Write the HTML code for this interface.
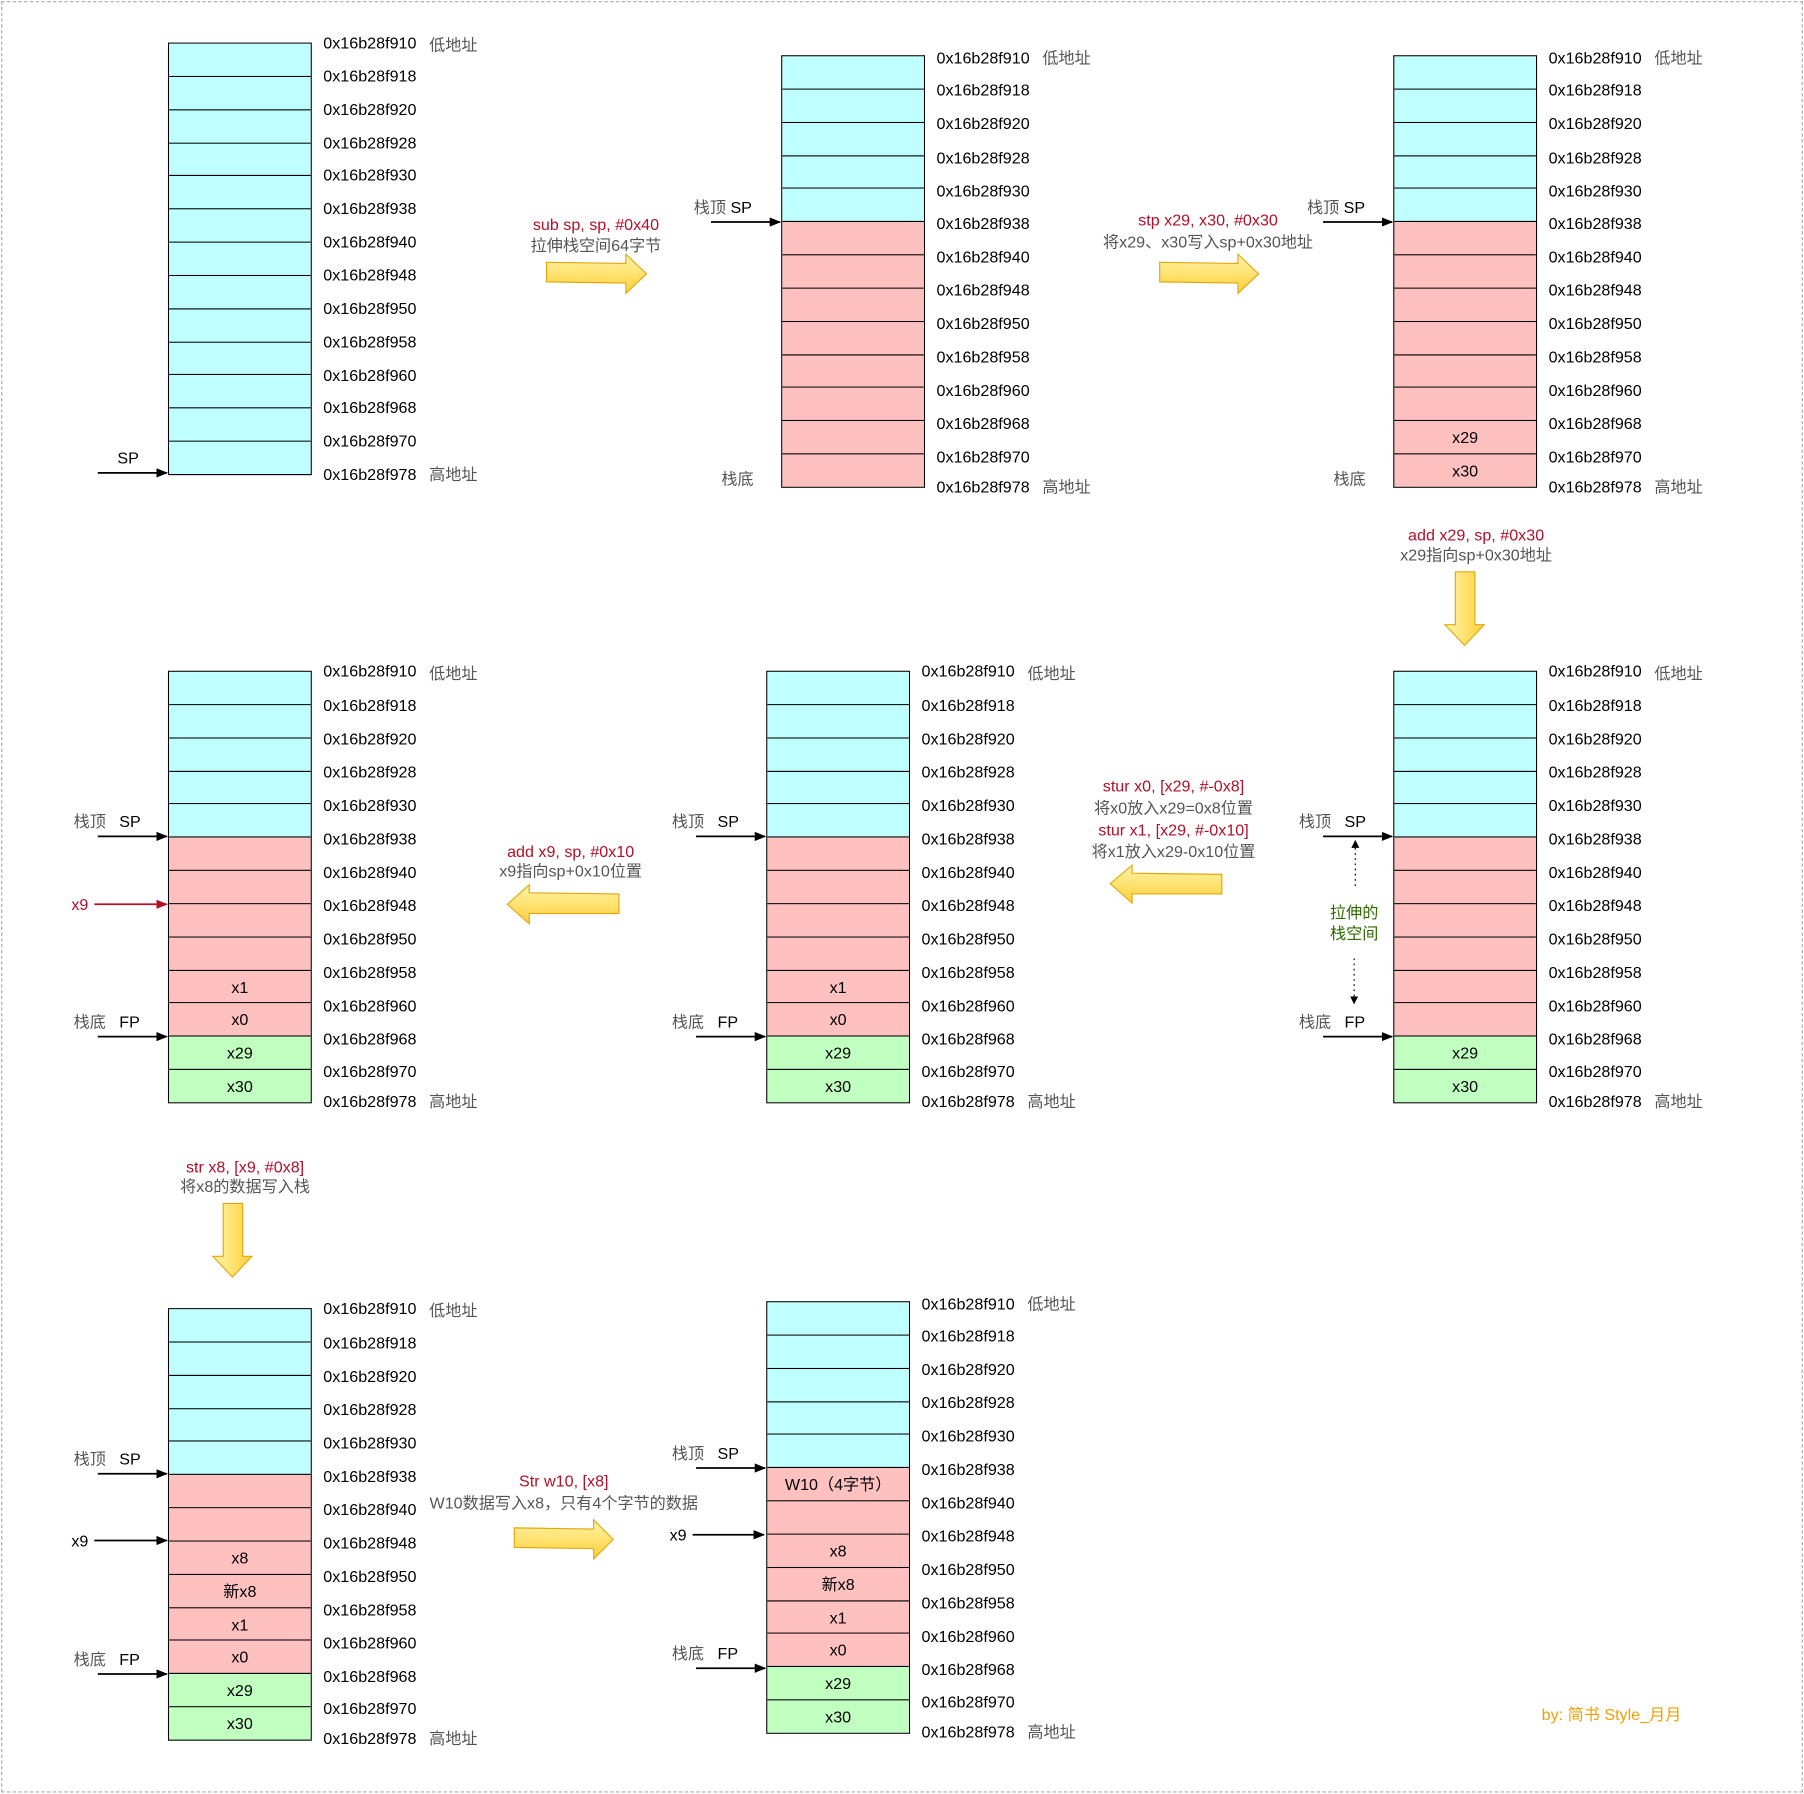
<!DOCTYPE html>
<html><head><meta charset="utf-8">
<style>
html,body{margin:0;padding:0;background:#fff;}
body{width:1804px;height:1794px;overflow:hidden;position:relative;}
#c{position:absolute;left:0;top:0;width:1568px;height:1559px;transform:scale(1.1505);transform-origin:0 0;font-family:"Liberation Sans","Noto Sans CJK SC",sans-serif;}
.frame{position:absolute;left:1px;top:1px;width:1564px;height:1555px;border:1px dashed #aaa;}
.w{position:absolute;width:360px;height:380px;}
.box{position:absolute;left:0;top:0;width:125px;border:1px solid #000;box-sizing:border-box;height:auto !important;}
.r{height:28.85px;box-sizing:border-box;border-bottom:1px solid #000;text-align:center;font-size:14px;line-height:28px;color:#000;}
.r:last-child{border-bottom:none;height:28.2px;}
.c{background:#c0ffff}.p{background:#ffc0c0}.g{background:#c0ffc0}
.a{position:absolute;left:135px;font-size:14px;line-height:18px;height:18px;white-space:nowrap;color:#000;}
.n{position:absolute;left:227px;font-size:14px;line-height:18px;color:#555;white-space:nowrap;}
.t{position:absolute;font-size:14px;line-height:18px;white-space:nowrap;color:#000;}
.gr{color:#555}.red{color:#b0102a}
.ct{position:absolute;font-size:14px;line-height:18px;white-space:nowrap;transform:translateX(-50%);text-align:center;}
svg{position:absolute;left:0;top:0;}
</style></head><body><div id="c">
<div class="frame"></div>

<!-- Stack 1 -->
<div class="w" style="left:146px;top:37px">
<div class="box"><div class="r c"></div><div class="r c"></div><div class="r c"></div><div class="r c"></div><div class="r c"></div><div class="r c"></div><div class="r c"></div><div class="r c"></div><div class="r c"></div><div class="r c"></div><div class="r c"></div><div class="r c"></div><div class="r c"></div></div>
<div class="a" style="top:-9px">0x16b28f910</div><div class="n" style="top:-7px">低地址</div>
<div class="a" style="top:19.85px">0x16b28f918</div><div class="a" style="top:48.7px">0x16b28f920</div><div class="a" style="top:77.55px">0x16b28f928</div><div class="a" style="top:106.4px">0x16b28f930</div><div class="a" style="top:135.25px">0x16b28f938</div><div class="a" style="top:164.1px">0x16b28f940</div><div class="a" style="top:192.95px">0x16b28f948</div><div class="a" style="top:221.8px">0x16b28f950</div><div class="a" style="top:250.65px">0x16b28f958</div><div class="a" style="top:279.5px">0x16b28f960</div><div class="a" style="top:308.35px">0x16b28f968</div><div class="a" style="top:337.2px">0x16b28f970</div><div class="a" style="top:366.05px">0x16b28f978</div><div class="n" style="top:366px">高地址</div>
</div>

<!-- Stack 2 -->
<div class="w" style="left:679px;top:48px">
<div class="box"><div class="r c"></div><div class="r c"></div><div class="r c"></div><div class="r c"></div><div class="r c"></div><div class="r p"></div><div class="r p"></div><div class="r p"></div><div class="r p"></div><div class="r p"></div><div class="r p"></div><div class="r p"></div><div class="r p"></div></div>
<div class="a" style="top:-7px">0x16b28f910</div><div class="n" style="top:-7px">低地址</div>
<div class="a" style="top:21px">0x16b28f918</div><div class="a" style="top:50px">0x16b28f920</div><div class="a" style="top:79.5px">0x16b28f928</div><div class="a" style="top:108.5px">0x16b28f930</div><div class="a" style="top:137.25px">0x16b28f938</div><div class="a" style="top:166.1px">0x16b28f940</div><div class="a" style="top:195px">0x16b28f948</div><div class="a" style="top:224px">0x16b28f950</div><div class="a" style="top:253px">0x16b28f958</div><div class="a" style="top:282px">0x16b28f960</div><div class="a" style="top:311px">0x16b28f968</div><div class="a" style="top:340px">0x16b28f970</div><div class="a" style="top:366px">0x16b28f978</div><div class="n" style="top:366px">高地址</div>
</div>

<!-- Stack 3 -->
<div class="w" style="left:1211px;top:48px">
<div class="box"><div class="r c"></div><div class="r c"></div><div class="r c"></div><div class="r c"></div><div class="r c"></div><div class="r p"></div><div class="r p"></div><div class="r p"></div><div class="r p"></div><div class="r p"></div><div class="r p"></div><div class="r p">x29</div><div class="r p">x30</div></div>
<div class="a" style="top:-7px">0x16b28f910</div><div class="n" style="top:-7px">低地址</div>
<div class="a" style="top:21px">0x16b28f918</div><div class="a" style="top:50px">0x16b28f920</div><div class="a" style="top:79.5px">0x16b28f928</div><div class="a" style="top:108.5px">0x16b28f930</div><div class="a" style="top:137.25px">0x16b28f938</div><div class="a" style="top:166.1px">0x16b28f940</div><div class="a" style="top:195px">0x16b28f948</div><div class="a" style="top:224px">0x16b28f950</div><div class="a" style="top:253px">0x16b28f958</div><div class="a" style="top:282px">0x16b28f960</div><div class="a" style="top:311px">0x16b28f968</div><div class="a" style="top:340px">0x16b28f970</div><div class="a" style="top:366px">0x16b28f978</div><div class="n" style="top:366px">高地址</div>
</div>

<!-- Stack 4 -->
<div class="w" style="left:146px;top:583px">
<div class="box"><div class="r c"></div><div class="r c"></div><div class="r c"></div><div class="r c"></div><div class="r c"></div><div class="r p"></div><div class="r p"></div><div class="r p"></div><div class="r p"></div><div class="r p">x1</div><div class="r p">x0</div><div class="r g">x29</div><div class="r g">x30</div></div>
<div class="a" style="top:-9px">0x16b28f910</div><div class="n" style="top:-7px">低地址</div>
<div class="a" style="top:21px">0x16b28f918</div><div class="a" style="top:50px">0x16b28f920</div><div class="a" style="top:79px">0x16b28f928</div><div class="a" style="top:108px">0x16b28f930</div><div class="a" style="top:137px">0x16b28f938</div><div class="a" style="top:166px">0x16b28f940</div><div class="a" style="top:195px">0x16b28f948</div><div class="a" style="top:224px">0x16b28f950</div><div class="a" style="top:253px">0x16b28f958</div><div class="a" style="top:282px">0x16b28f960</div><div class="a" style="top:311px">0x16b28f968</div><div class="a" style="top:339px">0x16b28f970</div><div class="a" style="top:365px">0x16b28f978</div><div class="n" style="top:365px">高地址</div>
</div>

<!-- Stack 5 -->
<div class="w" style="left:666px;top:583px">
<div class="box"><div class="r c"></div><div class="r c"></div><div class="r c"></div><div class="r c"></div><div class="r c"></div><div class="r p"></div><div class="r p"></div><div class="r p"></div><div class="r p"></div><div class="r p">x1</div><div class="r p">x0</div><div class="r g">x29</div><div class="r g">x30</div></div>
<div class="a" style="top:-9px">0x16b28f910</div><div class="n" style="top:-7px">低地址</div>
<div class="a" style="top:21px">0x16b28f918</div><div class="a" style="top:50px">0x16b28f920</div><div class="a" style="top:79px">0x16b28f928</div><div class="a" style="top:108px">0x16b28f930</div><div class="a" style="top:137px">0x16b28f938</div><div class="a" style="top:166px">0x16b28f940</div><div class="a" style="top:195px">0x16b28f948</div><div class="a" style="top:224px">0x16b28f950</div><div class="a" style="top:253px">0x16b28f958</div><div class="a" style="top:282px">0x16b28f960</div><div class="a" style="top:311px">0x16b28f968</div><div class="a" style="top:339px">0x16b28f970</div><div class="a" style="top:365px">0x16b28f978</div><div class="n" style="top:365px">高地址</div>
</div>

<!-- Stack 6 -->
<div class="w" style="left:1211px;top:583px">
<div class="box"><div class="r c"></div><div class="r c"></div><div class="r c"></div><div class="r c"></div><div class="r c"></div><div class="r p"></div><div class="r p"></div><div class="r p"></div><div class="r p"></div><div class="r p"></div><div class="r p"></div><div class="r g">x29</div><div class="r g">x30</div></div>
<div class="a" style="top:-9px">0x16b28f910</div><div class="n" style="top:-7px">低地址</div>
<div class="a" style="top:21px">0x16b28f918</div><div class="a" style="top:50px">0x16b28f920</div><div class="a" style="top:79px">0x16b28f928</div><div class="a" style="top:108px">0x16b28f930</div><div class="a" style="top:137px">0x16b28f938</div><div class="a" style="top:166px">0x16b28f940</div><div class="a" style="top:195px">0x16b28f948</div><div class="a" style="top:224px">0x16b28f950</div><div class="a" style="top:253px">0x16b28f958</div><div class="a" style="top:282px">0x16b28f960</div><div class="a" style="top:311px">0x16b28f968</div><div class="a" style="top:339px">0x16b28f970</div><div class="a" style="top:365px">0x16b28f978</div><div class="n" style="top:365px">高地址</div>
</div>

<!-- Stack 7 -->
<div class="w" style="left:146px;top:1137px">
<div class="box"><div class="r c"></div><div class="r c"></div><div class="r c"></div><div class="r c"></div><div class="r c"></div><div class="r p"></div><div class="r p"></div><div class="r p">x8</div><div class="r p">新x8</div><div class="r p">x1</div><div class="r p">x0</div><div class="r g">x29</div><div class="r g">x30</div></div>
<div class="a" style="top:-9px">0x16b28f910</div><div class="n" style="top:-7px">低地址</div>
<div class="a" style="top:21px">0x16b28f918</div><div class="a" style="top:50px">0x16b28f920</div><div class="a" style="top:79px">0x16b28f928</div><div class="a" style="top:108px">0x16b28f930</div><div class="a" style="top:137px">0x16b28f938</div><div class="a" style="top:166px">0x16b28f940</div><div class="a" style="top:195px">0x16b28f948</div><div class="a" style="top:224px">0x16b28f950</div><div class="a" style="top:253px">0x16b28f958</div><div class="a" style="top:282px">0x16b28f960</div><div class="a" style="top:311px">0x16b28f968</div><div class="a" style="top:339px">0x16b28f970</div><div class="a" style="top:365px">0x16b28f978</div><div class="n" style="top:365px">高地址</div>
</div>

<!-- Stack 8 -->
<div class="w" style="left:666px;top:1131px">
<div class="box"><div class="r c"></div><div class="r c"></div><div class="r c"></div><div class="r c"></div><div class="r c"></div><div class="r p">W10（4字节）</div><div class="r p"></div><div class="r p">x8</div><div class="r p">新x8</div><div class="r p">x1</div><div class="r p">x0</div><div class="r g">x29</div><div class="r g">x30</div></div>
<div class="a" style="top:-7px">0x16b28f910</div><div class="n" style="top:-7px">低地址</div>
<div class="a" style="top:21px">0x16b28f918</div><div class="a" style="top:50px">0x16b28f920</div><div class="a" style="top:79px">0x16b28f928</div><div class="a" style="top:108px">0x16b28f930</div><div class="a" style="top:137px">0x16b28f938</div><div class="a" style="top:166px">0x16b28f940</div><div class="a" style="top:195px">0x16b28f948</div><div class="a" style="top:224px">0x16b28f950</div><div class="a" style="top:253px">0x16b28f958</div><div class="a" style="top:282px">0x16b28f960</div><div class="a" style="top:311px">0x16b28f968</div><div class="a" style="top:339px">0x16b28f970</div><div class="a" style="top:365px">0x16b28f978</div><div class="n" style="top:365px">高地址</div>
</div>

<svg width="1568" height="1559" viewBox="0 0 1568 1559">
<defs>
<marker id="ah" markerWidth="10" markerHeight="8" refX="9" refY="4" orient="auto" markerUnits="userSpaceOnUse"><path d="M0,0 L10,4 L0,8 z" fill="#000"/></marker>
<marker id="ahr" markerWidth="10" markerHeight="8" refX="9" refY="4" orient="auto" markerUnits="userSpaceOnUse"><path d="M0,0 L10,4 L0,8 z" fill="#b0102a"/></marker>
<marker id="ahs" markerWidth="7" markerHeight="7" refX="6" refY="3.5" orient="auto" markerUnits="userSpaceOnUse"><path d="M0,0 L7,3.5 L0,7 z" fill="#000"/></marker>
<linearGradient id="yg" x1="0" y1="0" x2="0" y2="1"><stop offset="0" stop-color="#fff4a8"/><stop offset="1" stop-color="#ffd03a"/></linearGradient>
<linearGradient id="ygh" x1="0" y1="0" x2="1" y2="0"><stop offset="0" stop-color="#fff4a8"/><stop offset="1" stop-color="#ffd03a"/></linearGradient>
</defs>
<g stroke="#000" stroke-width="1.5" fill="none">
<line x1="85" y1="411" x2="145" y2="411" marker-end="url(#ah)"/>
<line x1="618" y1="193" x2="678" y2="193" marker-end="url(#ah)"/>
<line x1="1150" y1="193" x2="1210" y2="193" marker-end="url(#ah)"/>
<line x1="85" y1="727" x2="145" y2="727" marker-end="url(#ah)"/>
<line x1="85" y1="901" x2="145" y2="901" marker-end="url(#ah)"/>
<line x1="605" y1="727" x2="665" y2="727" marker-end="url(#ah)"/>
<line x1="605" y1="901" x2="665" y2="901" marker-end="url(#ah)"/>
<line x1="1150" y1="727" x2="1210" y2="727" marker-end="url(#ah)"/>
<line x1="1150" y1="901" x2="1210" y2="901" marker-end="url(#ah)"/>
<line x1="85" y1="1281" x2="145" y2="1281" marker-end="url(#ah)"/>
<line x1="82" y1="1339" x2="145" y2="1339" marker-end="url(#ah)"/>
<line x1="85" y1="1455" x2="145" y2="1455" marker-end="url(#ah)"/>
<line x1="605" y1="1276" x2="665" y2="1276" marker-end="url(#ah)"/>
<line x1="602" y1="1334" x2="664" y2="1334" marker-end="url(#ah)"/>
<line x1="605" y1="1450" x2="665" y2="1450" marker-end="url(#ah)"/>
</g>
<line x1="82" y1="786" x2="145" y2="786" stroke="#b0102a" stroke-width="1.5" marker-end="url(#ahr)"/>
<g stroke="#000" stroke-width="1" stroke-dasharray="1.5,3">
<line x1="1178" y1="770" x2="1178" y2="731" marker-end="url(#ahs)"/>
<line x1="1177" y1="833" x2="1177" y2="872" marker-end="url(#ahs)"/>
</g>
<g stroke="#e0a810" stroke-width="1" fill="url(#yg)">
<polygon points="475,228 544,229 544,221 562,238 544,255 544,246 475,245"/>
<polygon points="1008,228 1076,229 1076,221 1094,238 1076,255 1076,246 1008,245"/>
<polygon points="1062,760 984,759 984,752 965,768 984,785 984,777 1062,777"/>
<polygon points="538,777 460,776 460,769 441,786 460,803 460,794 538,794"/>
<polygon points="447,1328 516,1329 516,1321 533,1338 516,1355 516,1346 447,1345"/>
</g>
<g stroke="#e0a810" stroke-width="1" fill="url(#ygh)">
<polygon points="1265,497 1282,497 1282,543 1290,543 1273,561 1256,543 1265,543"/>
<polygon points="194,1046 211,1046 211,1092 219,1092 202,1110 185,1092 194,1092"/>
</g>
</svg>

<div class="t" style="left:102px;top:389px">SP</div>
<div class="t" style="left:603px;top:171px"><span class="gr">栈顶</span> SP</div>
<div class="t gr" style="left:627px;top:407px">栈底</div>
<div class="t" style="left:1136px;top:171px"><span class="gr">栈顶</span> SP</div>
<div class="t gr" style="left:1159px;top:407px">栈底</div>

<div class="t" style="left:64px;top:705px"><span class="gr">栈顶</span>&nbsp;&nbsp;&nbsp;SP</div>
<div class="t red" style="left:62px;top:777px">x9</div>
<div class="t" style="left:64px;top:879px"><span class="gr">栈底</span>&nbsp;&nbsp;&nbsp;FP</div>
<div class="t" style="left:584px;top:705px"><span class="gr">栈顶</span>&nbsp;&nbsp;&nbsp;SP</div>
<div class="t" style="left:584px;top:879px"><span class="gr">栈底</span>&nbsp;&nbsp;&nbsp;FP</div>
<div class="t" style="left:1129px;top:705px"><span class="gr">栈顶</span>&nbsp;&nbsp;&nbsp;SP</div>
<div class="t" style="left:1129px;top:879px"><span class="gr">栈底</span>&nbsp;&nbsp;&nbsp;FP</div>
<div class="ct" style="left:1177px;top:784px;color:#2d6a00">拉伸的<br>栈空间</div>

<div class="t" style="left:64px;top:1259px"><span class="gr">栈顶</span>&nbsp;&nbsp;&nbsp;SP</div>
<div class="t" style="left:62px;top:1330px">x9</div>
<div class="t" style="left:64px;top:1433px"><span class="gr">栈底</span>&nbsp;&nbsp;&nbsp;FP</div>
<div class="t" style="left:584px;top:1254px"><span class="gr">栈顶</span>&nbsp;&nbsp;&nbsp;SP</div>
<div class="t" style="left:582px;top:1325px">x9</div>
<div class="t" style="left:584px;top:1428px"><span class="gr">栈底</span>&nbsp;&nbsp;&nbsp;FP</div>

<div class="ct red" style="left:518px;top:186px">sub sp, sp, #0x40</div>
<div class="ct gr" style="left:518px;top:204px">拉伸栈空间64字节</div>
<div class="ct red" style="left:1050px;top:182px">stp x29, x30, #0x30</div>
<div class="ct gr" style="left:1050px;top:201px">将x29、x30写入sp+0x30地址</div>
<div class="ct red" style="left:1283px;top:456px">add x29, sp, #0x30</div>
<div class="ct gr" style="left:1283px;top:473px">x29指向sp+0x30地址</div>
<div class="ct red" style="left:1020px;top:674px">stur x0, [x29, #-0x8]</div>
<div class="ct gr" style="left:1020px;top:693px">将x0放入x29=0x8位置</div>
<div class="ct red" style="left:1020px;top:712px">stur x1, [x29, #-0x10]</div>
<div class="ct gr" style="left:1020px;top:731px">将x1放入x29-0x10位置</div>
<div class="ct red" style="left:496px;top:731px">add x9, sp, #0x10</div>
<div class="ct gr" style="left:496px;top:748px">x9指向sp+0x10位置</div>
<div class="ct red" style="left:213px;top:1005px">str x8, [x9, #0x8]</div>
<div class="ct gr" style="left:213px;top:1022px">将x8的数据写入栈</div>
<div class="ct red" style="left:490px;top:1278px">Str w10, [x8]</div>
<div class="ct gr" style="left:490px;top:1297px">W10数据写入x8，只有4个字节的数据</div>
<div class="t" style="left:1340px;top:1481px;color:#f0a000">by: 简书 Style_月月</div>
</div></body></html>
